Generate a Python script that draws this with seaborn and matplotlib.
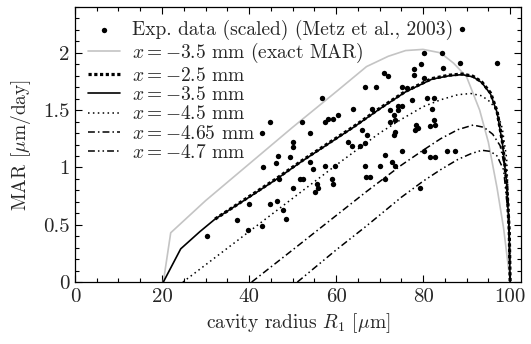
import numpy as np
import pandas as pd
import matplotlib
matplotlib.use("Agg")
import matplotlib.pyplot as plt
from matplotlib.ticker import MultipleLocator, FuncFormatter
import seaborn as sns

# ---------------- data ----------------
exp_x = [89.0, 80.2, 84.3, 88.5, 96.9, 79.5, 84.5, 77.8, 71.0, 72.0, 77.8, 80.1, 66.7, 69.2, 75.1,
         76.2, 56.7, 77.4, 80.8, 82.4, 64.0, 68.2, 74.3, 75.1, 72.4, 74.3, 82.0, 60.5, 52.1, 57.5,
         58.2, 59.4, 73.2, 73.6, 72.4, 78.4, 78.9, 78.2, 82.4, 82.8, 81.6, 65.9, 67.1, 73.6, 73.2,
         54.0, 62.8, 63.6, 65.4, 66.7, 71.3, 72.8, 73.6, 75.1, 80.1, 81.6, 82.8, 85.4, 87.4, 54.0,
         54.8, 57.5, 59.8, 66.7, 70.0, 66.9, 67.8, 51.7, 52.5, 59.0, 59.4, 71.3, 55.6, 55.9, 55.2,
         79.3, 46.7, 49.4, 43.1, 46.2, 47.0, 50.0, 40.0, 37.2, 44.8, 46.5, 47.7, 48.4, 42.9, 39.7,
         30.3, 44.8, 42.9, 50.2, 50.2]
exp_y = [2.21, 2.00, 2.00, 1.91, 1.91, 1.90, 1.87, 1.86, 1.82, 1.80, 1.81, 1.78, 1.70, 1.70, 1.70,
         1.69, 1.61, 1.59, 1.61, 1.61, 1.51, 1.51, 1.54, 1.54, 1.50, 1.50, 1.51, 1.46, 1.40, 1.40,
         1.42, 1.42, 1.46, 1.41, 1.40, 1.37, 1.34, 1.33, 1.41, 1.37, 1.36, 1.33, 1.28, 1.31, 1.28,
         1.30, 1.22, 1.19, 1.19, 1.21, 1.11, 1.05, 1.01, 1.14, 1.14, 1.09, 1.09, 1.14, 1.14, 1.05,
         0.99, 1.01, 1.01, 1.01, 1.01, 0.92, 0.92, 0.90, 0.90, 0.90, 0.86, 0.90, 0.86, 0.82, 0.79,
         0.82, 1.10, 1.09, 1.00, 1.04, 0.90, 0.82, 0.68, 0.54, 0.68, 0.71, 0.63, 0.55, 0.49, 0.45,
         0.40, 1.40, 1.30, 1.22, 1.18]

exact_x = [20.3, 22.0, 30, 40, 50, 60, 67, 72, 76, 80, 84, 87, 90, 93, 95, 97, 98.5, 99.6, 100]
exact_y = [0, 0.43, 0.71, 1.03, 1.35, 1.66, 1.88, 1.97, 2.02, 2.03, 2.00, 1.91, 1.79, 1.50, 1.22, 0.82, 0.47, 0.13, 0]

m25_x = [32.2, 40, 46, 52, 58, 64, 70, 76, 82, 86, 89, 91.5, 93.5, 95.5, 97, 98.2, 99.2, 99.8, 100]
m25_y = [0.55, 0.745, 0.895, 1.055, 1.205, 1.355, 1.515, 1.665, 1.775, 1.805, 1.815, 1.795, 1.745, 1.65, 1.49, 1.23, 0.87, 0.44, 0]

m35_x = [20.3, 24.3, 28.7, 32.2, 40, 46, 52, 58, 64, 70, 76, 82, 86, 89, 91.5, 93.5, 95.5, 97, 98.2, 99.2, 99.8, 100]
m35_y = [0, 0.29, 0.44, 0.55, 0.74, 0.89, 1.05, 1.20, 1.35, 1.51, 1.66, 1.77, 1.80, 1.81, 1.79, 1.74, 1.64, 1.48, 1.22, 0.86, 0.43, 0]

m45_x = [24.8, 30, 40, 50, 60, 65, 70, 75, 80, 84, 88, 91, 93.5, 95.5, 97, 98.2, 99.2, 99.8, 100]
m45_y = [0, 0.15, 0.44, 0.73, 1.02, 1.16, 1.30, 1.42, 1.53, 1.59, 1.635, 1.645, 1.625, 1.57, 1.49, 1.34, 1.08, 0.50, 0]

m465_x = [40.6, 50, 60, 67, 75, 80, 84, 88, 91.5, 94, 96, 97.7, 98.8, 99.6, 100]
m465_y = [0, 0.28, 0.58, 0.79, 1.02, 1.15, 1.25, 1.33, 1.37, 1.35, 1.29, 1.19, 1.00, 0.68, 0]

m47_x = [51.1, 60, 67, 75, 80, 84, 88, 91, 93.5, 95.5, 97, 98.5, 99.6, 100]
m47_y = [0, 0.28, 0.49, 0.74, 0.88, 0.98, 1.07, 1.12, 1.15, 1.14, 1.10, 0.98, 0.57, 0]

labels = ["Exp. data (scaled) (Metz et al., 2003)",
          r"$x = -3.5$ mm (exact MAR)",
          r"$x = -2.5$ mm",
          r"$x = -3.5$ mm",
          r"$x = -4.5$ mm",
          r"$x = -4.65$ mm",
          r"$x = -4.7$ mm"]

# ---------------- style ----------------
sns.set_theme(style="ticks")
plt.rcParams["font.family"] = ["cmr10", "DejaVu Serif"]
plt.rcParams["mathtext.fontset"] = "cm"
plt.rcParams["axes.formatter.use_mathtext"] = True
plt.rcParams["axes.unicode_minus"] = True

fig = plt.figure(figsize=(5.31, 3.44), dpi=100)
ax = fig.add_axes([0.1412, 0.180, 0.8408, 0.7997])

sns.scatterplot(x=exp_x, y=exp_y, ax=ax, color="black", s=15, linewidth=0,
                label=labels[0], zorder=5)

curves = [
    (exact_x, exact_y, labels[1], dict(color="#c4c4c4", lw=1.2, linestyle="-")),
    (m25_x, m25_y, labels[2], dict(color="black", lw=2.3, linestyle=(0, (1.0, 0.8)))),
    (m35_x, m35_y, labels[3], dict(color="black", lw=1.2, linestyle="-")),
    (m45_x, m45_y, labels[4], dict(color="black", lw=1.1, linestyle=(0, (1, 2.2)))),
    (m465_x, m465_y, labels[5], dict(color="black", lw=1.1, linestyle=(0, (4.5, 2, 1, 2)))),
    (m47_x, m47_y, labels[6], dict(color="black", lw=1.1, linestyle=(0, (4.5, 2, 1, 2, 1, 2)))),
]
for xs, ys, lab, kw in curves:
    sns.lineplot(x=xs, y=ys, ax=ax, sort=False, estimator=None, label=lab, **kw)

ax.set_xlim(0, 102.6)
ax.set_ylim(0, 2.4)
ax.xaxis.set_major_locator(MultipleLocator(20))
ax.xaxis.set_minor_locator(MultipleLocator(5))
ax.yaxis.set_major_locator(MultipleLocator(0.5))
ax.yaxis.set_minor_locator(MultipleLocator(0.1))
fmt = FuncFormatter(lambda v, p: f"{v:g}")
ax.xaxis.set_major_formatter(fmt)
ax.yaxis.set_major_formatter(fmt)
ax.tick_params(which="both", direction="in", top=True, right=True, color="black",
               width=0.8, labelsize=15, pad=4)
ax.tick_params(which="major", length=5)
ax.tick_params(which="minor", length=3)
for sp in ax.spines.values():
    sp.set_color("black")
    sp.set_linewidth(0.9)

ax.set_xlabel(r"cavity radius $R_1$ [$\mu$m]", fontsize=14, labelpad=4)
ax.set_ylabel(r"MAR [$\mu$m/day]", fontsize=14, labelpad=7)

h, l = ax.get_legend_handles_labels()
order = [l.index(lb) for lb in labels]
ax.legend([h[i] for i in order], [l[i] for i in order], loc="upper left", frameon=False,
          fontsize=14, handlelength=1.65, handletextpad=0.65, labelspacing=0.07,
          borderpad=0.1, borderaxespad=0.55, markerscale=1.0)

fig.savefig("out.png", dpi=100)
